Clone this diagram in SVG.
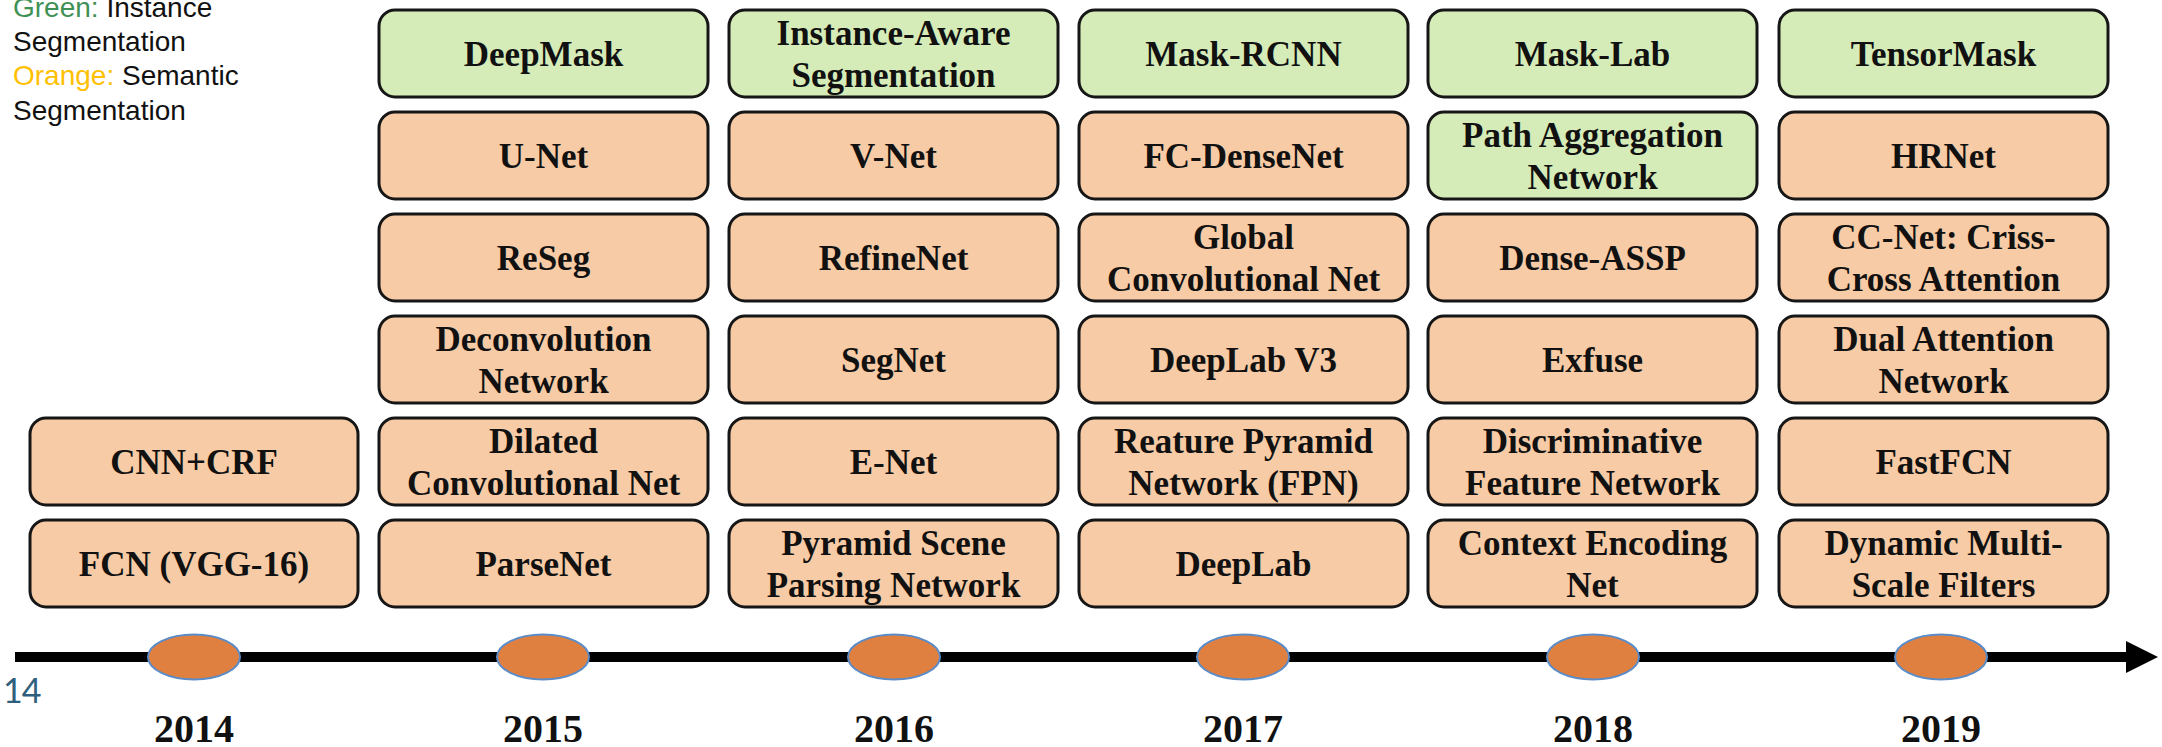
<svg xmlns="http://www.w3.org/2000/svg" width="2162" height="747" viewBox="0 0 2162 747">
  <defs>
    <style>
      .box { stroke: #161616; stroke-width: 3; }
      .inst { fill: #D6ECB8; }
      .sem { fill: #F7CBA5; }
      .lbl { font-family: "Liberation Serif", "Times New Roman", serif; font-weight: bold; font-size: 35px; fill: #111; text-anchor: middle; }
      .year { font-family: "Liberation Serif", "Times New Roman", serif; font-weight: bold; font-size: 40px; fill: #111; text-anchor: middle; }
      .legend { font-family: "Liberation Sans", Arial, sans-serif; font-size: 28px; fill: #111; }
      .dot { fill: #E08040; stroke: #5B8CC8; stroke-width: 2; }
    </style>
    <marker id="arrowhead" markerWidth="3.2" markerHeight="3.2" refX="0" refY="1.6" orient="auto" markerUnits="strokeWidth">
      <polygon points="0,0 3.2,1.6 0,3.2" fill="#000"/>
    </marker>
  </defs>

  <rect width="2162" height="747" fill="#ffffff"/>

  <!-- legend -->
  <g id="legend" class="legend">
    <text x="13" y="17"><tspan fill="#3F9156">Green:</tspan> Instance</text>
    <text x="13" y="51">Segmentation</text>
    <text x="13" y="85"><tspan fill="#FFC000">Orange:</tspan> Semantic</text>
    <text x="13" y="120">Segmentation</text>
  </g>

  <!-- timeline axis -->
  <g id="connectors">
    <line x1="15" y1="657" x2="2126" y2="657" stroke="#000" stroke-width="10" marker-end="url(#arrowhead)"/>
  </g>

  <!-- year markers -->
  <g id="year-2014"><ellipse class="dot" cx="194" cy="657" rx="46" ry="22.5"/><text class="year" x="194" y="742">2014</text></g>
  <g id="year-2015"><ellipse class="dot" cx="543" cy="657" rx="46" ry="22.5"/><text class="year" x="543" y="742">2015</text></g>
  <g id="year-2016"><ellipse class="dot" cx="894" cy="657" rx="46" ry="22.5"/><text class="year" x="894" y="742">2016</text></g>
  <g id="year-2017"><ellipse class="dot" cx="1243" cy="657" rx="46" ry="22.5"/><text class="year" x="1243" y="742">2017</text></g>
  <g id="year-2018"><ellipse class="dot" cx="1593" cy="657" rx="46" ry="22.5"/><text class="year" x="1593" y="742">2018</text></g>
  <g id="year-2019"><ellipse class="dot" cx="1941" cy="657" rx="46" ry="22.5"/><text class="year" x="1941" y="742">2019</text></g>

  <text id="page-number" x="3" y="703" font-family="Lato, 'Open Sans', sans-serif" font-size="34" fill="#2E5F7C" letter-spacing="-1">14</text>

  <!-- 2014 -->
  <g id="n2014-cnn-crf"><rect class="box sem" x="30" y="418" width="328" height="87" rx="16"/><text class="lbl" x="194" y="474">CNN+CRF</text></g>
  <g id="n2014-fcn"><rect class="box sem" x="30" y="520" width="328" height="87" rx="16"/><text class="lbl" x="194" y="576">FCN (VGG-16)</text></g>

  <!-- 2015 -->
  <g id="n2015-deepmask"><rect class="box inst" x="379" y="10" width="329" height="87" rx="16"/><text class="lbl" x="543.5" y="66">DeepMask</text></g>
  <g id="n2015-unet"><rect class="box sem" x="379" y="112" width="329" height="87" rx="16"/><text class="lbl" x="543.5" y="168">U-Net</text></g>
  <g id="n2015-reseg"><rect class="box sem" x="379" y="214" width="329" height="87" rx="16"/><text class="lbl" x="543.5" y="270">ReSeg</text></g>
  <g id="n2015-deconv"><rect class="box sem" x="379" y="316" width="329" height="87" rx="16"/><text class="lbl" x="543.5" y="351">Deconvolution</text><text class="lbl" x="543.5" y="393">Network</text></g>
  <g id="n2015-dilated"><rect class="box sem" x="379" y="418" width="329" height="87" rx="16"/><text class="lbl" x="543.5" y="453">Dilated</text><text class="lbl" x="543.5" y="495">Convolutional Net</text></g>
  <g id="n2015-parsenet"><rect class="box sem" x="379" y="520" width="329" height="87" rx="16"/><text class="lbl" x="543.5" y="576">ParseNet</text></g>

  <!-- 2016 -->
  <g id="n2016-instance-aware"><rect class="box inst" x="729" y="10" width="329" height="87" rx="16"/><text class="lbl" x="893.5" y="45">Instance-Aware</text><text class="lbl" x="893.5" y="87">Segmentation</text></g>
  <g id="n2016-vnet"><rect class="box sem" x="729" y="112" width="329" height="87" rx="16"/><text class="lbl" x="893.5" y="168">V-Net</text></g>
  <g id="n2016-refinenet"><rect class="box sem" x="729" y="214" width="329" height="87" rx="16"/><text class="lbl" x="893.5" y="270">RefineNet</text></g>
  <g id="n2016-segnet"><rect class="box sem" x="729" y="316" width="329" height="87" rx="16"/><text class="lbl" x="893.5" y="372">SegNet</text></g>
  <g id="n2016-enet"><rect class="box sem" x="729" y="418" width="329" height="87" rx="16"/><text class="lbl" x="893.5" y="474">E-Net</text></g>
  <g id="n2016-pspnet"><rect class="box sem" x="729" y="520" width="329" height="87" rx="16"/><text class="lbl" x="893.5" y="555">Pyramid Scene</text><text class="lbl" x="893.5" y="597">Parsing Network</text></g>

  <!-- 2017 -->
  <g id="n2017-mask-rcnn"><rect class="box inst" x="1079" y="10" width="329" height="87" rx="16"/><text class="lbl" x="1243.5" y="66">Mask-RCNN</text></g>
  <g id="n2017-fc-densenet"><rect class="box sem" x="1079" y="112" width="329" height="87" rx="16"/><text class="lbl" x="1243.5" y="168">FC-DenseNet</text></g>
  <g id="n2017-gcn"><rect class="box sem" x="1079" y="214" width="329" height="87" rx="16"/><text class="lbl" x="1243.5" y="249">Global</text><text class="lbl" x="1243.5" y="291">Convolutional Net</text></g>
  <g id="n2017-deeplab-v3"><rect class="box sem" x="1079" y="316" width="329" height="87" rx="16"/><text class="lbl" x="1243.5" y="372">DeepLab V3</text></g>
  <g id="n2017-fpn"><rect class="box sem" x="1079" y="418" width="329" height="87" rx="16"/><text class="lbl" x="1243.5" y="453">Reature Pyramid</text><text class="lbl" x="1243.5" y="495">Network (FPN)</text></g>
  <g id="n2017-deeplab"><rect class="box sem" x="1079" y="520" width="329" height="87" rx="16"/><text class="lbl" x="1243.5" y="576">DeepLab</text></g>

  <!-- 2018 -->
  <g id="n2018-mask-lab"><rect class="box inst" x="1428" y="10" width="329" height="87" rx="16"/><text class="lbl" x="1592.5" y="66">Mask-Lab</text></g>
  <g id="n2018-panet"><rect class="box inst" x="1428" y="112" width="329" height="87" rx="16"/><text class="lbl" x="1592.5" y="147">Path Aggregation</text><text class="lbl" x="1592.5" y="189">Network</text></g>
  <g id="n2018-dense-assp"><rect class="box sem" x="1428" y="214" width="329" height="87" rx="16"/><text class="lbl" x="1592.5" y="270">Dense-ASSP</text></g>
  <g id="n2018-exfuse"><rect class="box sem" x="1428" y="316" width="329" height="87" rx="16"/><text class="lbl" x="1592.5" y="372">Exfuse</text></g>
  <g id="n2018-dfn"><rect class="box sem" x="1428" y="418" width="329" height="87" rx="16"/><text class="lbl" x="1592.5" y="453">Discriminative</text><text class="lbl" x="1592.5" y="495">Feature Network</text></g>
  <g id="n2018-encnet"><rect class="box sem" x="1428" y="520" width="329" height="87" rx="16"/><text class="lbl" x="1592.5" y="555">Context Encoding</text><text class="lbl" x="1592.5" y="597">Net</text></g>

  <!-- 2019 -->
  <g id="n2019-tensormask"><rect class="box inst" x="1779" y="10" width="329" height="87" rx="16"/><text class="lbl" x="1943.5" y="66">TensorMask</text></g>
  <g id="n2019-hrnet"><rect class="box sem" x="1779" y="112" width="329" height="87" rx="16"/><text class="lbl" x="1943.5" y="168">HRNet</text></g>
  <g id="n2019-ccnet"><rect class="box sem" x="1779" y="214" width="329" height="87" rx="16"/><text class="lbl" x="1943.5" y="249">CC-Net: Criss-</text><text class="lbl" x="1943.5" y="291">Cross Attention</text></g>
  <g id="n2019-danet"><rect class="box sem" x="1779" y="316" width="329" height="87" rx="16"/><text class="lbl" x="1943.5" y="351">Dual Attention</text><text class="lbl" x="1943.5" y="393">Network</text></g>
  <g id="n2019-fastfcn"><rect class="box sem" x="1779" y="418" width="329" height="87" rx="16"/><text class="lbl" x="1943.5" y="474">FastFCN</text></g>
  <g id="n2019-dmnet"><rect class="box sem" x="1779" y="520" width="329" height="87" rx="16"/><text class="lbl" x="1943.5" y="555">Dynamic Multi-</text><text class="lbl" x="1943.5" y="597">Scale Filters</text></g>
</svg>
